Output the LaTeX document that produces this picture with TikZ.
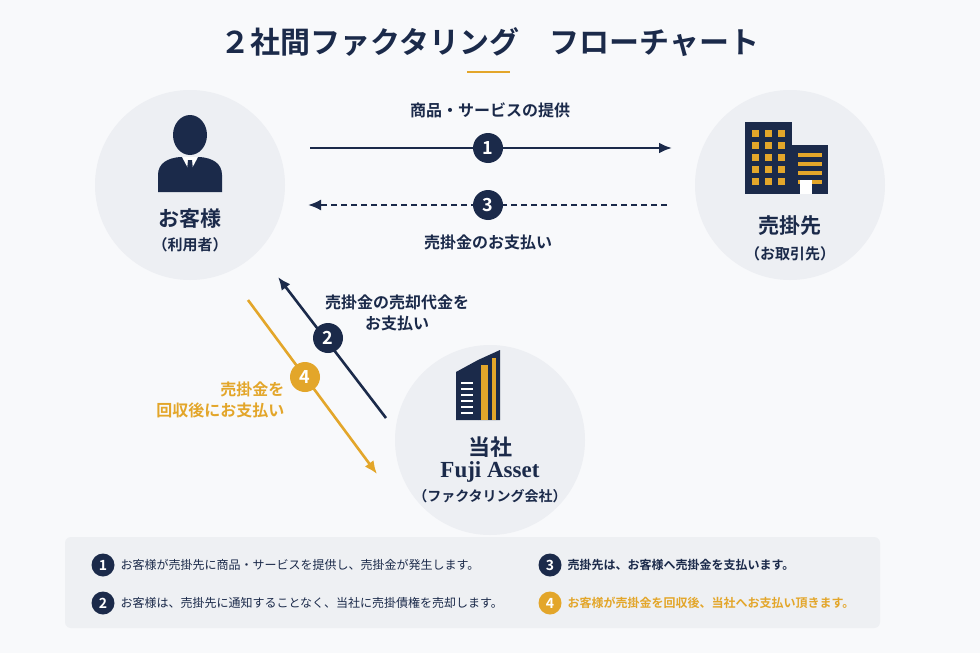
\documentclass[tikz,border=0pt]{standalone}
\usepackage{fontspec}
\newfontfamily\jp{Noto Sans CJK JP}
\newfontfamily\jpb{Noto Sans CJK JP Bold}
\newfontfamily\serifb{Liberation Serif}
\usetikzlibrary{arrows.meta}
\definecolor{navy}{HTML}{1B2A4A}
\definecolor{gold}{HTML}{E3A62A}
\definecolor{bg}{HTML}{F8F9FB}
\definecolor{circ}{HTML}{EDEFF3}
\definecolor{box}{HTML}{EEF0F3}
\begin{document}
\begin{tikzpicture}[x=1pt,y=-1pt,
  big/.style={circle,fill=circ,minimum size=190pt,inner sep=0},
  num/.style={circle,fill=navy,text=white,minimum size=30pt,inner sep=0,font=\jpb\fontsize{18}{18}\selectfont},
  numg/.style={num,fill=gold},
  snum/.style={circle,fill=navy,text=white,minimum size=23pt,inner sep=0,font=\jpb\fontsize{14}{14}\selectfont},
  lab/.style={font=\jpb\fontsize{16}{21}\selectfont,text=navy,align=center},
  leg/.style={font=\jp\fontsize{12}{14}\selectfont,text=navy,anchor=west},
  arr/.style={line width=2.6pt,-{Latex[length=13pt,width=11pt]}}]
\fill[bg] (0,0) rectangle (980,653);
\useasboundingbox (0,0) rectangle (980,653);
\node[font=\jpb\fontsize{30}{30}\selectfont,text=navy] (title) at (490,42) {２社間ファクタリング　フローチャート};
\draw[gold,line width=2.5pt] (467,72) -- (510,72);
% circles
\node[big] (cust) at (190,185) {};
\node[big] (sell) at (790,185) {};
\node[big] (fuji) at (490,440) {};
% person icon
\fill[navy] (190,135) ellipse (17 and 20);
\fill[navy] (158,192) -- (158,175) .. controls (158,163) and (168,158) .. (180,157) -- (200,157) .. controls (212,158) and (222,163) .. (222,175) -- (222,192) -- cycle;
\fill[white] (182,157) -- (198,157) -- (190,172) -- cycle;
\fill[navy] (188,160) -- (192,160) -- (194,180) -- (190,186) -- (186,180) -- cycle;
\node[lab,font=\jpb\fontsize{21}{21}\selectfont] (custn) at (190,219) {お客様};
\node[lab,font=\jpb\fontsize{15}{15}\selectfont] (custs) at (190,245) {（利用者）};
% seller building
\fill[navy] (745,122) rectangle (792,194);
\fill[navy] (792,145) rectangle (828,194);
\foreach \i in {0,1,2,3,4} \foreach \j in {0,1,2} \fill[gold] (752+\j*13,130+\i*12) rectangle ++(7,7);
\foreach \i in {0,1,2,3} \fill[gold] (798,153+\i*9) rectangle ++(24,4);
\fill[white] (800,180) rectangle (812,194);
\node[lab,font=\jpb\fontsize{21}{21}\selectfont] (selln) at (790,226) {売掛先};
\node[lab,font=\jpb\fontsize{15}{15}\selectfont] (sells) at (790,254) {（お取引先）};
% fuji building
\fill[navy] (456,372) -- (478,360) -- (478,420) -- (456,420) -- cycle;
\fill[navy] (478,360) -- (500,350) -- (500,420) -- (478,420) -- cycle;
\fill[gold] (481,365) rectangle (488,420);
\fill[gold] (492,358) rectangle (496,420);
\foreach \i in {0,...,5} \fill[white] (461,382+\i*6) rectangle ++(12,2);
\node[lab,font=\jpb\fontsize{22}{22}\selectfont] (fujin) at (490,447) {当社};
\node[text=navy,font=\serifb\bfseries\fontsize{23}{23}\selectfont] (fujie) at (490,472) {Fuji Asset};
\node[lab,font=\jpb\fontsize{14}{14}\selectfont] (fujis) at (490,496) {（ファクタリング会社）};
% arrows
\coordinate (a1s) at (310,148); \coordinate (a1e) at (672,148);
\draw[arr,navy] (a1s) -- (a1e);
\node[num] (n1) at (488,148) {1};
\node[lab] (l1) at (490,110) {商品・サービスの提供};
\coordinate (a3s) at (667,205); \coordinate (a3e) at (308,205);
\draw[arr,navy,dash pattern=on 6pt off 4pt,line width=2pt] (a3s) -- (a3e);
\node[num] (n3) at (488,205) {3};
\node[lab] (l3) at (488,242) {売掛金のお支払い};
\coordinate (a2s) at (386,418); \coordinate (a2e) at (278,277);
\draw[arr,navy] (a2s) -- (a2e);
\node[num] (n2) at (328,338) {2};
\node[lab] (l2) at (397,313) {売掛金の売却代金を\\お支払い};
\coordinate (a4s) at (248,300); \coordinate (a4e) at (377,474);
\draw[arr,gold] (a4s) -- (a4e);
\node[numg] (n4) at (305,377) {4};
\node[lab,text=gold,align=right,anchor=east] (l4) at (288,400) {売掛金を\\回収後にお支払い};
% legend
\fill[box,rounded corners=6pt] (65,537) rectangle (880,628);
\node[snum] (b1) at (103,565) {1};
\node[leg] (t1) at (117,565) {お客様が売掛先に商品・サービスを提供し、売掛金が発生します。};
\node[snum] (b2) at (103,603) {2};
\node[leg] (t2) at (117,603) {お客様は、売掛先に通知することなく、当社に売掛債権を売却します。};
\node[snum] (b3) at (550,565) {3};
\node[leg,font=\jpb\fontsize{12}{14}\selectfont] (t3) at (564,565) {売掛先は、お客様へ売掛金を支払います。};
\node[snum,fill=gold] (b4) at (550,603) {4};
\node[leg,font=\jpb\fontsize{12}{14}\selectfont,text=gold] (t4) at (564,603) {お客様が売掛金を回収後、当社へお支払い頂きます。};
\end{tikzpicture}
\end{document}
